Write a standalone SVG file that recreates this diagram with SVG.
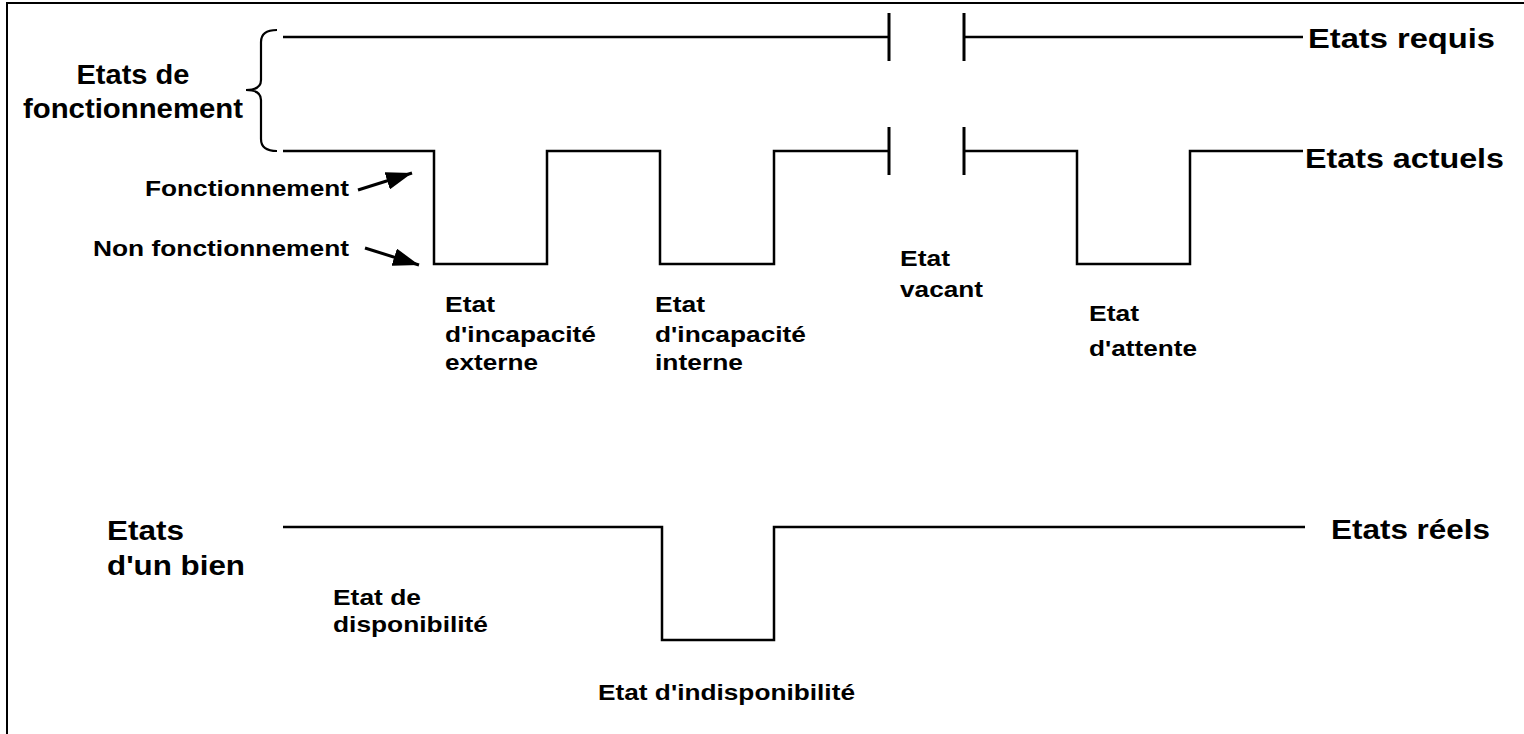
<svg xmlns="http://www.w3.org/2000/svg" width="1524" height="734" viewBox="0 0 1524 734">
<defs>
<style>
.ln{fill:none;stroke:#000;stroke-width:2.5;stroke-linejoin:miter;stroke-linecap:butt}
.tk{fill:none;stroke:#000;stroke-width:3}
.s{font-family:"Liberation Sans",Arial,sans-serif;font-weight:bold;font-size:22px;fill:#000}
.b{font-family:"Liberation Sans",Arial,sans-serif;font-weight:bold;font-size:28px;fill:#000}
</style>
<marker id="ah" markerUnits="userSpaceOnUse" markerWidth="26" markerHeight="18" refX="26" refY="9" orient="auto" viewBox="0 0 26 18">
<path d="M0,0 L26,9 L0,18 z" fill="#000"/>
</marker>
</defs>
<rect width="1524" height="734" fill="#fff"/>
<path d="M7,734 V3 H1524" fill="none" stroke="#000" stroke-width="2"/>

<g id="connectors">
<path id="requis-line" class="ln" d="M283,37 H889 M964,37 H1303"/>
<path class="tk" d="M889,13 V61 M964,13 V61"/>
<path id="actuels-line" class="ln" d="M283,151 H434 V264 H547 V151 H660 V264 H774 V151 H889 M964,151 H1077 V264 H1190 V151 H1303"/>
<path class="tk" d="M889,127 V175 M964,127 V175"/>
<path id="reels-line" class="ln" d="M283,527 H662 V640 H774 V527 H1305"/>
<path id="brace" fill="none" stroke="#000" stroke-width="2.2" d="M277,30 Q261,30 261,42 L261,80 Q261,90 246,90 Q261,90 261,100 L261,139 Q261,151 277,151"/>
<line x1="358" y1="190" x2="412" y2="173" stroke="#000" stroke-width="3" marker-end="url(#ah)"/>
<line x1="365" y1="248" x2="419" y2="265" stroke="#000" stroke-width="3" marker-end="url(#ah)"/>
</g>

<g id="label-fonctionnement-group">
<text class="b" x="133" y="84" text-anchor="middle" textLength="113" lengthAdjust="spacingAndGlyphs">Etats de</text>
<text class="b" x="133" y="118" text-anchor="middle" textLength="220" lengthAdjust="spacingAndGlyphs">fonctionnement</text>
</g>
<g id="label-requis"><text class="b" x="1308" y="48" textLength="187" lengthAdjust="spacingAndGlyphs">Etats requis</text></g>
<g id="label-actuels"><text class="b" x="1305" y="168" textLength="199" lengthAdjust="spacingAndGlyphs">Etats actuels</text></g>
<g id="label-fonct"><text class="s" x="145" y="196" textLength="204" lengthAdjust="spacingAndGlyphs">Fonctionnement</text></g>
<g id="label-nonfonct"><text class="s" x="93" y="256" textLength="256" lengthAdjust="spacingAndGlyphs">Non fonctionnement</text></g>
<g id="label-ext">
<text class="s" x="445" y="312" textLength="50" lengthAdjust="spacingAndGlyphs">Etat</text>
<text class="s" x="445" y="342" textLength="151" lengthAdjust="spacingAndGlyphs">d'incapacité</text>
<text class="s" x="445" y="370" textLength="93" lengthAdjust="spacingAndGlyphs">externe</text>
</g>
<g id="label-int">
<text class="s" x="655" y="312" textLength="50" lengthAdjust="spacingAndGlyphs">Etat</text>
<text class="s" x="655" y="342" textLength="151" lengthAdjust="spacingAndGlyphs">d'incapacité</text>
<text class="s" x="655" y="370" textLength="88" lengthAdjust="spacingAndGlyphs">interne</text>
</g>
<g id="label-vacant">
<text class="s" x="900" y="266" textLength="50" lengthAdjust="spacingAndGlyphs">Etat</text>
<text class="s" x="900" y="297" textLength="83" lengthAdjust="spacingAndGlyphs">vacant</text>
</g>
<g id="label-attente">
<text class="s" x="1089" y="321" textLength="50" lengthAdjust="spacingAndGlyphs">Etat</text>
<text class="s" x="1089" y="356" textLength="108" lengthAdjust="spacingAndGlyphs">d'attente</text>
</g>
<g id="label-bien">
<text class="b" x="107" y="540" textLength="77" lengthAdjust="spacingAndGlyphs">Etats</text>
<text class="b" x="107" y="575" textLength="138" lengthAdjust="spacingAndGlyphs">d'un bien</text>
</g>
<g id="label-reels"><text class="b" x="1331" y="539" textLength="159" lengthAdjust="spacingAndGlyphs">Etats réels</text></g>
<g id="label-dispo">
<text class="s" x="333" y="605" textLength="88" lengthAdjust="spacingAndGlyphs">Etat de</text>
<text class="s" x="333" y="632" textLength="155" lengthAdjust="spacingAndGlyphs">disponibilité</text>
</g>
<g id="label-indispo"><text class="s" x="598" y="700" textLength="257" lengthAdjust="spacingAndGlyphs">Etat d'indisponibilité</text></g>
</svg>
